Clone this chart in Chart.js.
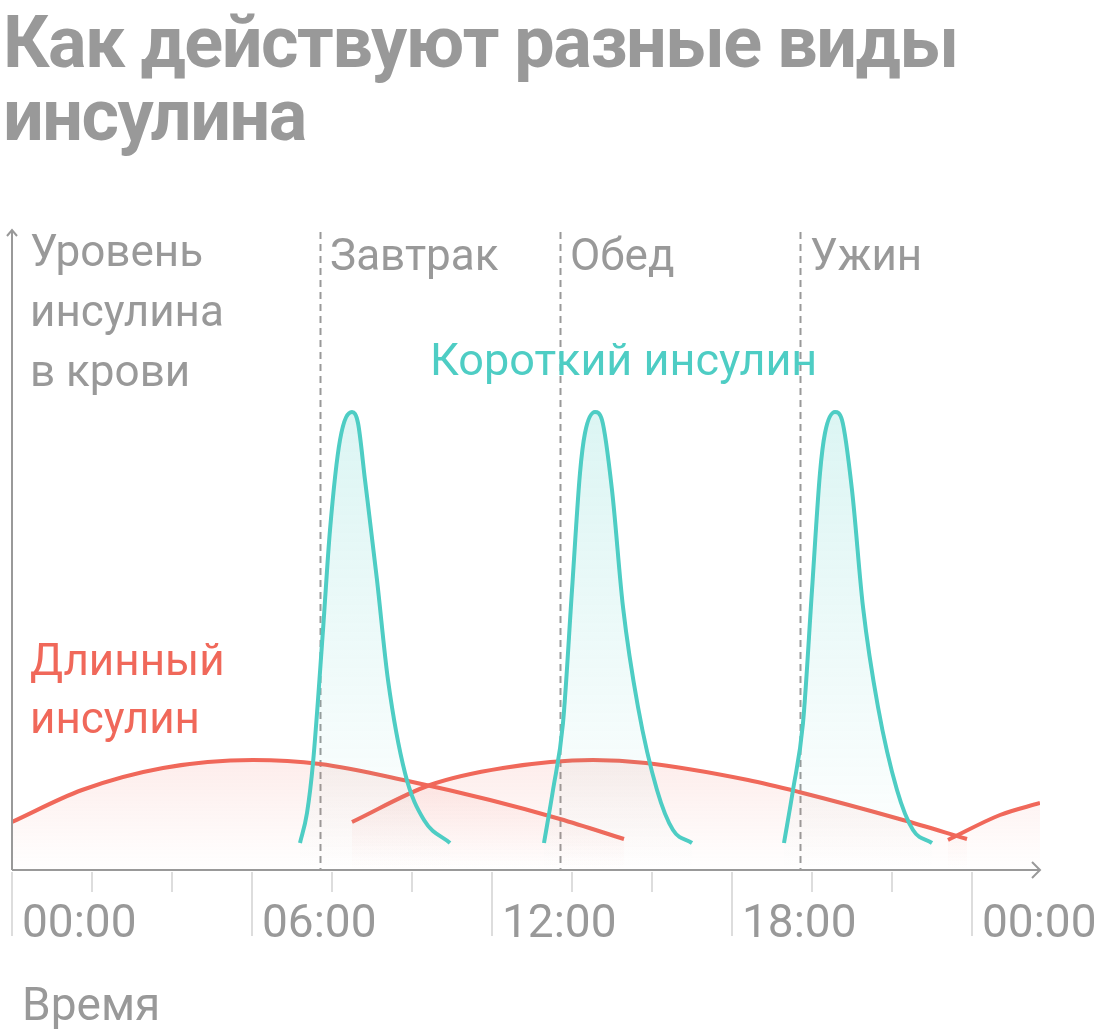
<!DOCTYPE html>
<html lang="ru">
<head>
<meta charset="UTF-8">
<title>Как действуют разные виды инсулина</title>
<style>
  body { margin: 0; background: #fff; }
  #wrap { width: 1120px; height: 1032px; }
</style>
</head>
<body>
<div id="wrap"><canvas id="insulinChart" width="1120" height="1032"></canvas></div>
<script src="https://cdn.jsdelivr.net/npm/chart.js"></script>
<script>
// время, часы от полуночи
const tickHours = [0, 2, 4, 6, 8, 10, 12, 14, 16, 18, 20, 22, 24];
const majorHours = [0, 6, 12, 18, 24];
const majorLabels = ['00:00', '06:00', '12:00', '18:00', '00:00'];

// приёмы пищи
const mealHours = [7.7, 13.7, 19.7];
const mealNames = ['Завтрак', 'Обед', 'Ужин'];

// короткий инсулин, три укола
const short1Hours = [7.2, 7.375, 7.525, 7.775, 7.95, 8.2, 8.5, 8.65, 8.825, 9.125, 9.4, 9.825, 10.3, 10.95];
const short1Level = [2.7, 5.7, 10.7, 24.0, 34.0, 43.0, 45.8, 44.7, 39.0, 29.0, 19.0, 9.7, 5.0, 2.7];
const short2Hours = [13.3, 13.525, 13.775, 14.0, 14.2, 14.325, 14.575, 14.75, 15.0, 15.275, 15.65, 16.125, 16.525, 17.0];
const short2Level = [2.7, 8.0, 14.7, 28.0, 39.7, 43.7, 45.8, 45.0, 38.0, 26.3, 16.3, 8.0, 4.0, 2.7];
const short3Hours = [19.3, 19.525, 19.775, 20.0, 20.2, 20.325, 20.575, 20.75, 21.0, 21.275, 21.65, 22.125, 22.525, 23.0];
const short3Level = [2.7, 8.0, 14.7, 28.0, 39.7, 43.7, 45.8, 45.0, 38.0, 26.3, 16.3, 8.0, 4.0, 2.7];

// длинный инсулин
const long1Hours = [0, 1.75, 3.775, 6.025, 7.7, 9.9, 11.95, 13.7, 15.3];
const long1Level = [4.8, 8.0, 10.2, 11.0, 10.6, 8.9, 7.0, 5.1, 3.1];
const long2Hours = [8.5, 10.45, 12.275, 14.525, 15.85, 18.4, 19.675, 22.275, 23.875];
const long2Level = [4.8, 8.5, 10.2, 11.0, 10.7, 9.0, 7.8, 5.0, 3.1];
const long3Hours = [23.4, 24.7, 25.7];
const long3Level = [3.0, 5.5, 6.7];

const TEAL = '#4ecdc4';
const RED = '#f0685a';
const GRAY = '#999999';

function toPoints(hours, level) {
  return hours.map((h, i) => ({ x: h, y: level[i] }));
}

// градиентная заливка под кривой
function gradient(rgb, topValue, topAlpha, bottomAlpha) {
  return (context) => {
    const chart = context.chart;
    const area = chart.chartArea;
    if (!area) return null;
    const top = chart.scales.y.getPixelForValue(topValue);
    const g = chart.ctx.createLinearGradient(0, top, 0, area.bottom);
    g.addColorStop(0, 'rgba(' + rgb + ',' + topAlpha + ')');
    g.addColorStop(1, 'rgba(' + rgb + ',' + bottomAlpha + ')');
    return g;
  };
}

function shortSet(hours, level) {
  return {
    data: toPoints(hours, level),
    borderColor: TEAL,
    borderWidth: 4,
    fill: 'origin',
    backgroundColor: gradient('78,205,196', 45.8, 0.2, 0.0),
    cubicInterpolationMode: 'monotone',
    pointRadius: 0
  };
}

function longSet(hours, level) {
  return {
    data: toPoints(hours, level),
    borderColor: RED,
    borderWidth: 4,
    fill: 'origin',
    backgroundColor: gradient('240,104,90', 11, 0.12, 0.0),
    cubicInterpolationMode: 'monotone',
    pointRadius: 0
  };
}

const decorPlugin = {
  id: 'decor',
  beforeDatasetsDraw(chart) {
    const { ctx, chartArea: a, scales: { x } } = chart;
    ctx.save();
    ctx.strokeStyle = GRAY;
    ctx.lineWidth = 2;
    ctx.setLineDash([7, 5]);
    mealHours.forEach((h) => {
      const px = Math.round(x.getPixelForValue(h)) + 0.5;
      ctx.beginPath();
      ctx.moveTo(px, a.top + 2);
      ctx.lineTo(px, a.bottom);
      ctx.stroke();
    });
    ctx.restore();
  },
  afterDatasetsDraw(chart) {
    const { ctx, chartArea: a, scales: { x } } = chart;
    ctx.save();

    // деления шкалы времени
    ctx.strokeStyle = '#dddddd';
    ctx.lineWidth = 2;
    tickHours.forEach((h) => {
      const px = Math.round(x.getPixelForValue(h));
      const len = majorHours.includes(h) ? 66 : 22;
      ctx.beginPath();
      ctx.moveTo(px, a.bottom + 2);
      ctx.lineTo(px, a.bottom + len);
      ctx.stroke();
    });

    // оси со стрелками
    ctx.strokeStyle = GRAY;
    ctx.lineWidth = 2;
    ctx.beginPath();
    ctx.moveTo(a.left, a.bottom);
    ctx.lineTo(a.left, a.top);
    ctx.moveTo(a.left - 5, a.top + 6);
    ctx.lineTo(a.left, a.top);
    ctx.lineTo(a.left + 5, a.top + 6);
    ctx.moveTo(a.left, a.bottom);
    ctx.lineTo(a.right, a.bottom);
    ctx.moveTo(a.right - 8, a.bottom - 8);
    ctx.lineTo(a.right, a.bottom);
    ctx.lineTo(a.right - 8, a.bottom + 8);
    ctx.stroke();

    // подписи
    ctx.fillStyle = GRAY;
    ctx.textBaseline = 'alphabetic';
    ctx.textAlign = 'left';
    ctx.font = '46px Roboto';
    majorHours.forEach((h, i) => {
      ctx.fillText(majorLabels[i], Math.round(x.getPixelForValue(h)) + 10, a.bottom + 67);
    });
    ctx.fillText('Время', 22, 1020);

    ctx.font = '44px Roboto';
    mealHours.forEach((h, i) => {
      ctx.fillText(mealNames[i], Math.round(x.getPixelForValue(h)) + 10, 270);
    });
    ['Уровень', 'инсулина', 'в крови'].forEach((t, i) => ctx.fillText(t, 30, 266 + i * 60));

    ctx.fillStyle = TEAL;
    ctx.font = '45px Roboto';
    ctx.fillText('Короткий инсулин', 430, 375);
    ctx.fillStyle = RED;
    ctx.font = '44px Roboto';
    ctx.fillText('Длинный', 30, 675);
    ctx.fillText('инсулин', 30, 733);

    // заголовок
    ctx.fillStyle = GRAY;
    ctx.font = 'bold 72px Roboto';
    ctx.letterSpacing = '-1.5px';
    ctx.fillText('Как действуют разные виды', 3, 67);
    ctx.fillText('инсулина', 3, 140);

    ctx.restore();
  }
};

new Chart(document.getElementById('insulinChart'), {
  type: 'line',
  data: {
    datasets: [
      shortSet(short1Hours, short1Level),
      shortSet(short2Hours, short2Level),
      shortSet(short3Hours, short3Level),
      longSet(long1Hours, long1Level),
      longSet(long2Hours, long2Level),
      longSet(long3Hours, long3Level)
    ]
  },
  options: {
    responsive: false,
    animation: false,
    events: [],
    layout: { padding: { left: 12, right: 80, top: 230, bottom: 162 } },
    scales: {
      x: { type: 'linear', min: 0, max: 25.7, display: false },
      y: { min: 0, max: 64, display: false }
    },
    plugins: {
      legend: { display: false },
      tooltip: { enabled: false },
      title: { display: false }
    }
  },
  plugins: [decorPlugin]
});
</script>
</body>
</html>
